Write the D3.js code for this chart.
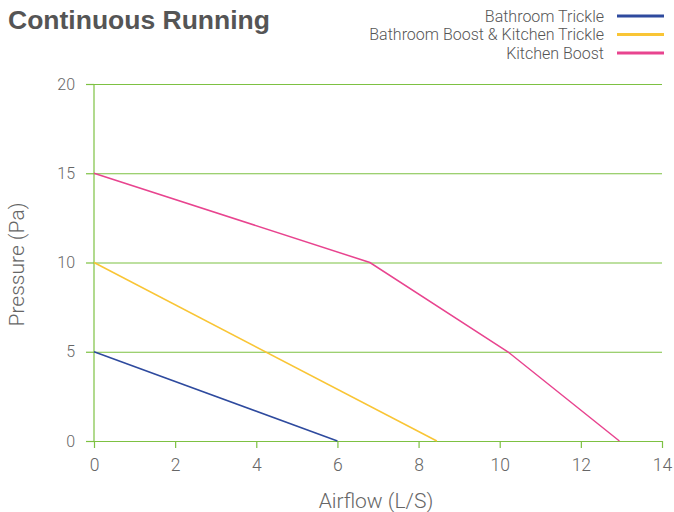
<!DOCTYPE html>
<html>
<head>
<meta charset="utf-8">
<script src="https://cdn.jsdelivr.net/npm/d3@7"></script>
<style>
  body { margin: 0; background: #fff; }
  svg { display: block; }
</style>
</head>
<body>
<div id="chart"></div>
<script>
const seriesNames = ["Bathroom Trickle", "Bathroom Boost & Kitchen Trickle", "Kitchen Boost"];
const seriesColors = ["#2e4a9e", "#f9c535", "#e8448f"];
const bathroomTrickle = [[0, 5], [6, 0]];
const boostKitchenTrickle = [[0, 10], [8.45, 0]];
const kitchenBoost = [[0, 15], [6.8, 10], [10.2, 5], [12.95, 0]];
const xTicks = [0, 2, 4, 6, 8, 10, 12, 14];
const yTicks = [0, 5, 10, 15, 20];

const width = 674, height = 512;
const margin = { top: 84, right: 12, bottom: 71, left: 94 };
const grid = "#7dc142";
const textCol = "#666";
const font = "Roboto, 'Liberation Sans', sans-serif";

const svg = d3.select("#chart").append("svg")
  .attr("width", width)
  .attr("height", height)
  .style("font-family", font);

const x = d3.scaleLinear().domain([0, 14]).range([margin.left, width - margin.right]);
const y = d3.scaleLinear().domain([0, 20]).range([height - margin.bottom, margin.top]);

// title
svg.append("text")
  .attr("x", 8).attr("y", 29)
  .attr("font-family", "'Liberation Sans', Arial, sans-serif")
  .attr("font-weight", "bold")
  .attr("font-size", 26.5)
  .attr("fill", "#555")
  .text("Continuous Running");

// gridlines + y ticks
const yAxis = svg.append("g")
  .attr("transform", `translate(${margin.left},0)`)
  .call(d3.axisLeft(y).tickValues(yTicks).tickSize(8).tickPadding(11));
yAxis.select(".domain").remove();
yAxis.selectAll(".tick line").attr("stroke", grid).attr("stroke-width", 1.2);
yAxis.selectAll(".tick").append("line")
  .attr("x1", 0).attr("x2", x(14) - margin.left)
  .attr("stroke", grid).attr("stroke-width", 1.2);
yAxis.selectAll(".tick text")
  .attr("font-size", 16).attr("font-weight", 300).attr("fill", textCol)
  .attr("font-family", font);

// vertical y axis line
svg.append("line")
  .attr("x1", x(0)).attr("x2", x(0))
  .attr("y1", y(20)).attr("y2", y(0))
  .attr("stroke", grid).attr("stroke-width", 1.2);

// x axis
const xAxis = svg.append("g")
  .attr("transform", `translate(0,${y(0)})`)
  .call(d3.axisBottom(x).tickValues(xTicks).tickSize(7).tickPadding(11));
xAxis.select(".domain").remove();
xAxis.selectAll(".tick line").attr("stroke", grid).attr("stroke-width", 1.2);
xAxis.selectAll(".tick text")
  .attr("font-size", 17.5).attr("font-weight", 300).attr("fill", textCol)
  .attr("font-family", font);

// axis titles
svg.append("text")
  .attr("x", (x(0) + x(14)) / 2 - 2).attr("y", 508)
  .attr("text-anchor", "middle")
  .attr("font-size", 21).attr("font-weight", 300).attr("fill", textCol)
  .text("Airflow (L/S)");

svg.append("text")
  .attr("transform", `translate(24,${(y(0) + y(20)) / 2 + 2}) rotate(-90)`)
  .attr("text-anchor", "middle")
  .attr("font-size", 21).attr("font-weight", 300).attr("fill", textCol)
  .text("Pressure (Pa)");

// lines
const line = d3.line().x(d => x(d[0])).y(d => y(d[1]));
[bathroomTrickle, boostKitchenTrickle, kitchenBoost].forEach((data, i) => {
  svg.append("path")
    .datum(data)
    .attr("fill", "none")
    .attr("stroke", seriesColors[i])
    .attr("stroke-width", 1.5)
    .attr("d", line);
});

// legend
const legend = svg.append("g");
seriesNames.forEach((name, i) => {
  const ly = 16 + i * 18.5;
  legend.append("text")
    .attr("x", 604).attr("y", ly + 5.5)
    .attr("text-anchor", "end")
    .attr("font-size", 16).attr("font-weight", 300).attr("fill", "#555")
    .text(name);
  legend.append("line")
    .attr("x1", 617).attr("x2", 664)
    .attr("y1", ly).attr("y2", ly)
    .attr("stroke", seriesColors[i]).attr("stroke-width", 3);
});
</script>
</body>
</html>
